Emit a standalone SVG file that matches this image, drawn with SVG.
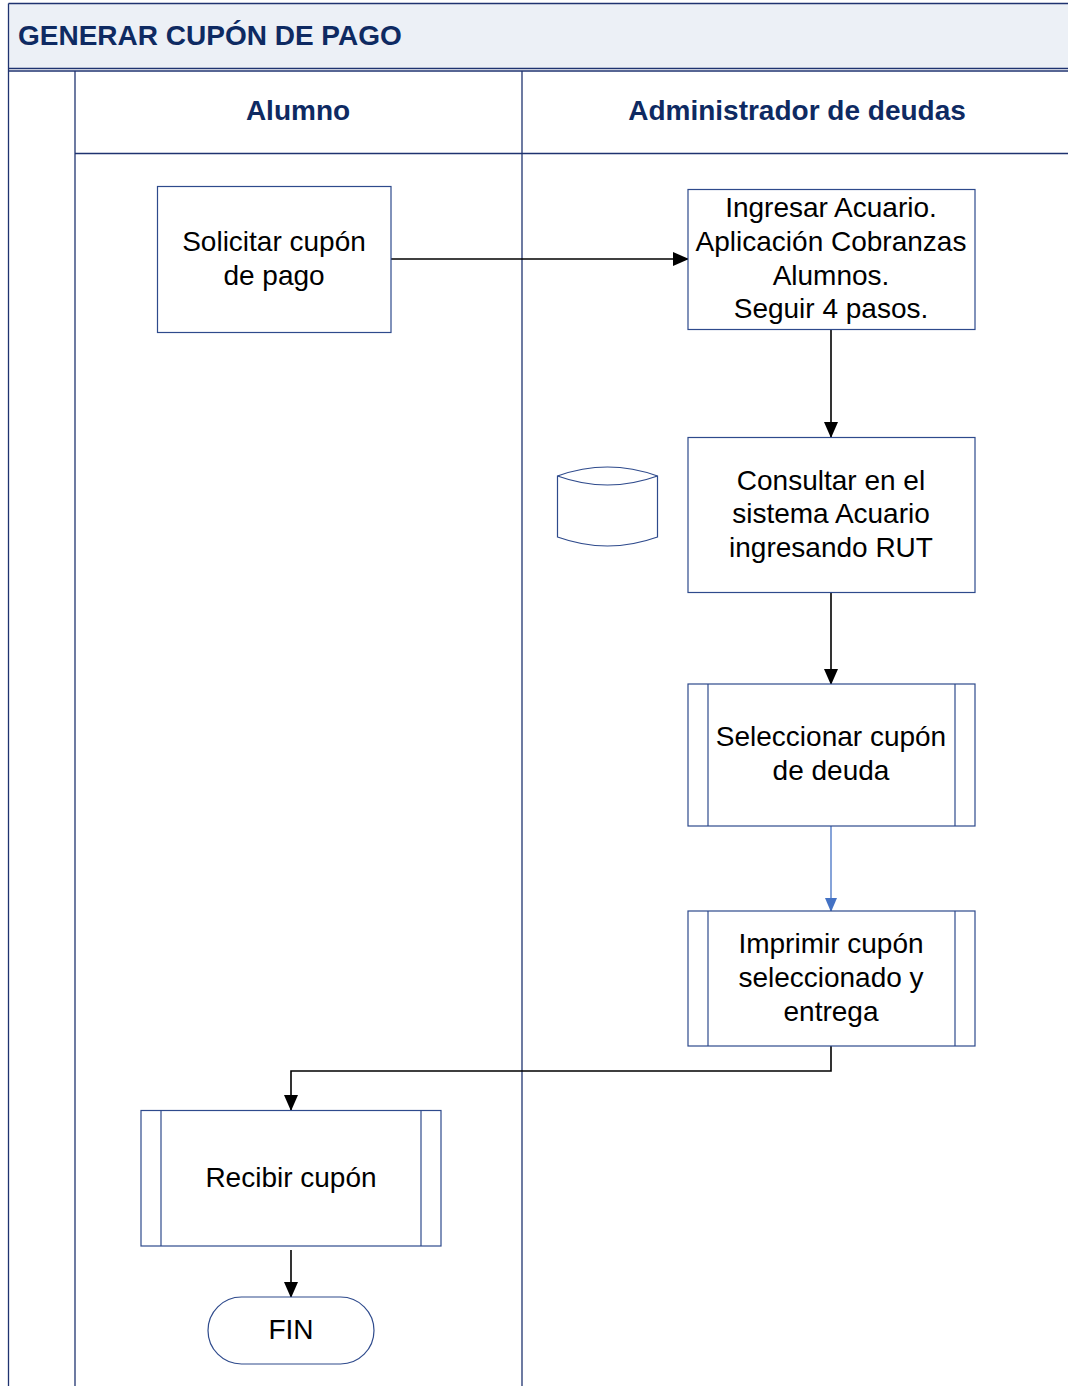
<svg xmlns="http://www.w3.org/2000/svg" width="1068" height="1386" viewBox="0 0 1068 1386">
<defs>
<style>
.lane{stroke:#1F3370;stroke-width:1.3;fill:none}
.box{fill:#fff;stroke:#2E4A8C;stroke-width:1.2}
.inner{stroke:#2E4A8C;stroke-width:1.2;fill:none}
.t{font-family:"Liberation Sans",Arial,sans-serif;font-size:28px;fill:#000;text-anchor:middle}
.h{font-family:"Liberation Sans",Arial,sans-serif;font-size:28px;font-weight:bold;fill:#0E2A62}
.c{stroke:#000;stroke-width:1.6;fill:none}
.cb{stroke:#4472C4;stroke-width:1.3;fill:none}
</style>
<marker id="ah" markerWidth="16" markerHeight="14" refX="15" refY="7" orient="auto" markerUnits="userSpaceOnUse">
<path d="M0,0 L16,7 L0,14 Z" fill="#000"/>
</marker>
<marker id="ahb" markerWidth="14" markerHeight="12" refX="13" refY="6" orient="auto" markerUnits="userSpaceOnUse">
<path d="M0,0 L14,6 L0,12 Z" fill="#4472C4"/>
</marker>
</defs>
<rect width="1068" height="1386" fill="#fff"/>
<g id="pool">
<rect x="8.5" y="3.5" width="1070" height="65" fill="#ECF0F6" stroke="none"/>
<line class="lane" x1="8.5" y1="3.5" x2="1068" y2="3.5"/>
<line class="lane" x1="8.5" y1="3.5" x2="8.5" y2="1386"/>
<line class="lane" x1="8.5" y1="68.5" x2="1068" y2="68.5"/>
<line class="lane" x1="8.5" y1="71" x2="1068" y2="71"/>
<line class="lane" x1="75" y1="71" x2="75" y2="1386"/>
<line class="lane" x1="522" y1="71" x2="522" y2="1386"/>
<line class="lane" x1="75" y1="153.5" x2="1068" y2="153.5"/>
<text class="h" x="18" y="45">GENERAR CUPÓN DE PAGO</text>
<text class="h" x="298" y="120" text-anchor="middle">Alumno</text>
<text class="h" x="797" y="120" text-anchor="middle">Administrador de deudas</text>
</g>
<g id="connectors">
<line class="c" x1="391" y1="259" x2="688" y2="259" marker-end="url(#ah)"/>
<line class="c" x1="831" y1="329" x2="831" y2="437" marker-end="url(#ah)"/>
<line class="c" x1="831" y1="592" x2="831" y2="684" marker-end="url(#ah)"/>
<line class="cb" x1="831" y1="826" x2="831" y2="911" marker-end="url(#ahb)"/>
<polyline class="c" points="831,1046 831,1071 291,1071 291,1110" marker-end="url(#ah)"/>
<line class="c" x1="291" y1="1250" x2="291" y2="1297" marker-end="url(#ah)"/>
</g>
<g id="solicitar">
<rect class="box" x="157.5" y="186.5" width="233.5" height="146"/>
<text class="t" x="274" y="251">Solicitar cupón</text>
<text class="t" x="274" y="285">de pago</text>
</g>
<g id="ingresar">
<rect class="box" x="688" y="189.5" width="287" height="140"/>
<text class="t" x="831" y="217">Ingresar Acuario.</text>
<text class="t" x="831" y="251">Aplicación Cobranzas</text>
<text class="t" x="831" y="285">Alumnos.</text>
<text class="t" x="831" y="318">Seguir 4 pasos.</text>
</g>
<g id="basedatos">
<path class="box" d="M557.5,476 Q607.5,458 657.5,476 L657.5,537 Q607.5,555 557.5,537 Z"/>
<path class="inner" d="M557.5,476 Q607.5,494 657.5,476"/>
</g>
<g id="consultar">
<rect class="box" x="688" y="437.5" width="287" height="155"/>
<text class="t" x="831" y="490">Consultar en el</text>
<text class="t" x="831" y="523">sistema Acuario</text>
<text class="t" x="831" y="557">ingresando RUT</text>
</g>
<g id="seleccionar">
<rect class="box" x="688" y="684" width="287" height="142" stroke="#5E719E"/>
<line class="inner" x1="708" y1="684" x2="708" y2="826"/>
<line class="inner" x1="955" y1="684" x2="955" y2="826"/>
<text class="t" x="831" y="746">Seleccionar cupón</text>
<text class="t" x="831" y="780">de deuda</text>
</g>
<g id="imprimir">
<rect class="box" x="688" y="911" width="287" height="135"/>
<line class="inner" x1="708" y1="911" x2="708" y2="1046"/>
<line class="inner" x1="955" y1="911" x2="955" y2="1046"/>
<text class="t" x="831" y="953">Imprimir cupón</text>
<text class="t" x="831" y="987">seleccionado y</text>
<text class="t" x="831" y="1021">entrega</text>
</g>
<g id="recibir">
<rect class="box" x="141" y="1110.5" width="300" height="135.5"/>
<line class="inner" x1="161" y1="1110.5" x2="161" y2="1246"/>
<line class="inner" x1="421" y1="1110.5" x2="421" y2="1246"/>
<text class="t" x="291" y="1187">Recibir cupón</text>
</g>
<g id="fin">
<rect class="box" x="208" y="1297" width="166" height="67" rx="33.5" ry="33.5"/>
<text class="t" x="291" y="1339">FIN</text>
</g>
</svg>
